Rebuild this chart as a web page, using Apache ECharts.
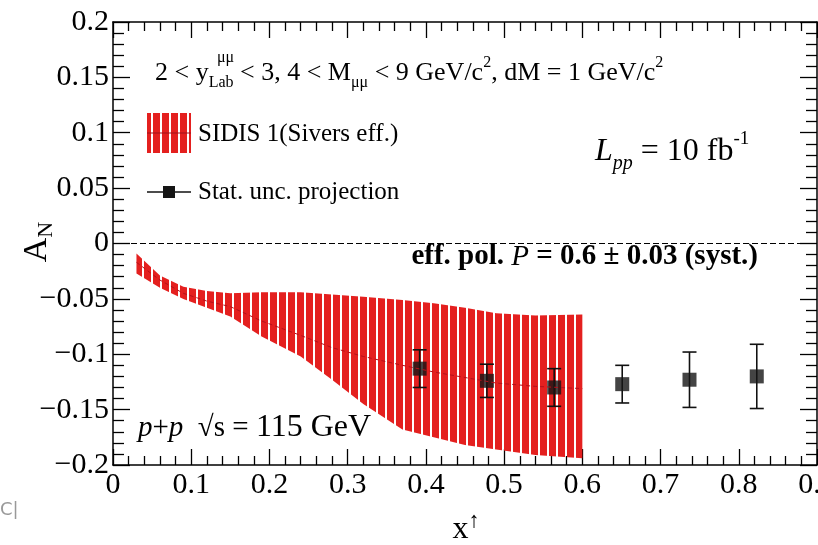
<!DOCTYPE html>
<html>
<head>
<meta charset="utf-8">
<script src="https://cdn.jsdelivr.net/npm/echarts@6/dist/echarts.min.js"></script>
<style>
html, body { margin: 0; padding: 0; background: #fff; }
#chart { width: 818px; height: 545px; }
</style>
</head>
<body>
<div id="chart"></div>
<script>
// SIDIS 1 (Sivers eff.) band
var bandX    = [0.03, 0.06, 0.09, 0.12, 0.15, 0.19, 0.24, 0.28, 0.32, 0.37, 0.41, 0.45, 0.49, 0.54, 0.60];
var bandHigh = [-0.009, -0.029, -0.039, -0.043, -0.045, -0.044, -0.044, -0.046, -0.048, -0.051, -0.054, -0.058, -0.063, -0.065, -0.064];
var bandLow  = [-0.027, -0.040, -0.050, -0.058, -0.066, -0.084, -0.102, -0.123, -0.145, -0.168, -0.175, -0.182, -0.186, -0.191, -0.194];
var bandMid  = [-0.017, -0.033, -0.045, -0.052, -0.057, -0.070, -0.083, -0.094, -0.102, -0.110, -0.116, -0.121, -0.126, -0.129, -0.131];

// stat. unc. projection points
var statX   = [0.392, 0.478, 0.564, 0.651, 0.737, 0.823];
var statY   = [-0.113, -0.124, -0.130, -0.127, -0.123, -0.120];
var statErr = [0.017, 0.015, 0.017, 0.017, 0.025, 0.029];

var serif = '"Liberation Serif", "DejaVu Serif", serif';

function zip(a, b) {
  var out = [];
  for (var i = 0; i < a.length; i++) out.push([a[i], b[i]]);
  return out;
}

var bandData = [];
for (var i = 0; i < bandX.length; i++) bandData.push([bandX[i], bandLow[i], bandHigh[i]]);

var errData = [];
for (var j = 0; j < statX.length; j++) errData.push([statX[j], statY[j] - statErr[j], statY[j] + statErr[j]]);

// vertical red stripes like the ROOT hatch
var stripe = document.createElement('canvas');
stripe.width = 9; stripe.height = 4;
var sctx = stripe.getContext('2d');
sctx.fillStyle = '#e4201f';
sctx.fillRect(0, 0, 7, 4);
var stripeFill = { image: stripe, repeat: 'repeat' };

var tickStyle = { color: '#000', width: 1.3 };
function axisBase(extra) {
  var a = {
    axisLine: { onZero: false, lineStyle: { color: '#000', width: 1.5 } },
    axisTick: { inside: true, length: 16, lineStyle: tickStyle },
    minorTick: { show: true, splitNumber: 5, length: 9, lineStyle: tickStyle },
    splitLine: { show: false },
    minorSplitLine: { show: false }
  };
  for (var k in extra) a[k] = extra[k];
  return a;
}

var xFmt = function(v) { return v === 0 ? '0' : (+v.toFixed(1)).toString(); };
var yFmt = function(v) {
  var s = +v.toFixed(2);
  return s < 0 ? '\u2212' + String(-s) : String(s);
};

var chart = echarts.init(document.getElementById('chart'));
chart.setOption({
  animation: false,
  backgroundColor: '#fff',
  grid: { left: 113, right: 1, top: 22, bottom: 80, outerBoundsMode: 'none', containLabel: false },
  xAxis: [
    axisBase({ type: 'value', position: 'bottom', min: 0, max: 0.9, interval: 0.1,
      axisLabel: { color: '#000', fontFamily: serif, fontSize: 30, margin: 5, formatter: xFmt } }),
    axisBase({ type: 'value', position: 'top', min: 0, max: 0.9, interval: 0.1,
      axisLabel: { show: false } })
  ],
  yAxis: [
    axisBase({ type: 'value', position: 'left', min: -0.2, max: 0.2, interval: 0.05,
      axisTick: { inside: true, length: 17, lineStyle: tickStyle },
      minorTick: { show: true, splitNumber: 5, length: 11, lineStyle: tickStyle },
      axisLabel: { color: '#000', fontFamily: serif, fontSize: 30, margin: 4, formatter: yFmt } }),
    axisBase({ type: 'value', position: 'right', min: -0.2, max: 0.2, interval: 0.05,
      axisTick: { inside: true, length: 17, lineStyle: tickStyle },
      minorTick: { show: true, splitNumber: 5, length: 11, lineStyle: tickStyle },
      axisLabel: { show: false } })
  ],
  series: [
    {
      // band as one polygon through the library's coordinates
      type: 'custom', data: bandData, encode: { x: 0, y: [1, 2] }, silent: true,
      renderItem: function(params, api) {
        if (params.dataIndex !== 0) return null;
        var pts = [];
        for (var k = 0; k < bandX.length; k++) pts.push(api.coord([bandX[k], bandHigh[k]]));
        for (var m = bandX.length - 1; m >= 0; m--) pts.push(api.coord([bandX[m], bandLow[m]]));
        return { type: 'polygon', shape: { points: pts }, style: { fill: stripeFill } };
      }
    },
    {
      type: 'line', data: zip(bandX, bandMid), symbol: 'none', silent: true,
      lineStyle: { color: '#b3101a', width: 1, type: [4, 3] },
      markLine: {
        silent: true, symbol: ['none', 'none'], label: { show: false },
        lineStyle: { color: '#000', width: 1, type: [6, 3] },
        data: [{ yAxis: 0 }]
      }
    },
    {
      type: 'custom', data: errData, encode: { x: 0, y: [1, 2] },
      renderItem: function(params, api) {
        var x = api.value(0);
        var lo = api.coord([x, api.value(1)]);
        var hi = api.coord([x, api.value(2)]);
        var cap = 7;
        var st = { stroke: '#111', lineWidth: 1.6 };
        return { type: 'group', children: [
          { type: 'line', shape: { x1: lo[0], y1: lo[1], x2: hi[0], y2: hi[1] }, style: st },
          { type: 'line', shape: { x1: lo[0] - cap, y1: lo[1], x2: lo[0] + cap, y2: lo[1] }, style: st },
          { type: 'line', shape: { x1: hi[0] - cap, y1: hi[1], x2: hi[0] + cap, y2: hi[1] }, style: st }
        ]};
      }
    },
    {
      type: 'scatter', data: zip(statX, statY), symbol: 'rect', symbolSize: 14,
      itemStyle: { color: '#151515' }
    }
  ],
  graphic: [
    // header line
    { type: 'text', x: 155, y: 73, style: {
      text: '{n|2 < y}{sub|Lab}{n| < 3, 4 < M}{sub|\u03bc\u03bc}{n| < 9 GeV/c}{sup|2}{n|, dM = 1 GeV/c}{sup|2}',
      verticalAlign: 'middle', lineHeight: 36,
      rich: {
        n: { fontFamily: serif, fontSize: 26, fill: '#000' },
        sub: { fontFamily: serif, fontSize: 16, fill: '#000', verticalAlign: 'bottom', lineHeight: 16 },
        sup: { fontFamily: serif, fontSize: 16, fill: '#000', verticalAlign: 'top', lineHeight: 18 }
      } } },
    { type: 'text', x: 217, y: 58, style: { text: '\u03bc\u03bc', fontFamily: serif, fontSize: 16, fill: '#000', verticalAlign: 'middle' } },
    // legend
    { type: 'rect', shape: { x: 147, y: 113, width: 44, height: 40 }, style: { fill: stripeFill } },
    { type: 'line', shape: { x1: 147, y1: 133, x2: 191, y2: 133 }, style: { stroke: '#a0101a', lineWidth: 1 } },
    { type: 'text', x: 198, y: 134, style: { text: 'SIDIS 1(Sivers eff.)', fontFamily: serif, fontSize: 25, fill: '#000', verticalAlign: 'middle' } },
    { type: 'line', shape: { x1: 147, y1: 192, x2: 191, y2: 192 }, style: { stroke: '#111', lineWidth: 1.6 } },
    { type: 'rect', shape: { x: 163, y: 186, width: 12, height: 12 }, style: { fill: '#151515' } },
    { type: 'text', x: 198, y: 192, style: { text: 'Stat. unc. projection', fontFamily: serif, fontSize: 25, fill: '#000', verticalAlign: 'middle' } },
    // luminosity
    { type: 'text', x: 595, y: 152, style: {
      text: '{l|L}{sub|pp}{m| = 10 fb}{sup|-1}', verticalAlign: 'middle', lineHeight: 44,
      rich: {
        l: { fontFamily: serif, fontSize: 32, fontStyle: 'italic', fill: '#000' },
        m: { fontFamily: serif, fontSize: 32, fill: '#000' },
        sub: { fontFamily: serif, fontSize: 20, fontStyle: 'italic', fill: '#000', verticalAlign: 'bottom', lineHeight: 20 },
        sup: { fontFamily: serif, fontSize: 19, fill: '#000', verticalAlign: 'top', lineHeight: 22 }
      } } },
    // polarisation
    { type: 'text', x: 758, y: 257, style: {
      text: '{b|eff. pol. }{i|P}{b| = 0.6 \u00b1 0.03 (syst.)}', align: 'right', verticalAlign: 'middle',
      rich: {
        b: { fontFamily: serif, fontSize: 29, fontWeight: 'bold', fill: '#000' },
        i: { fontFamily: serif, fontSize: 29, fontStyle: 'italic', fill: '#000' }
      } } },
    // p+p
    { type: 'text', x: 138, y: 428, style: {
      text: '{i|p}{n|+}{i|p}{n|  \u221as = }{m|115 GeV}', verticalAlign: 'middle',
      rich: {
        i: { fontFamily: serif, fontSize: 29, fontStyle: 'italic', fill: '#000' },
        n: { fontFamily: serif, fontSize: 29, fill: '#000' },
        m: { fontFamily: serif, fontSize: 32, fill: '#000' }
      } } },
    // axis titles
    { type: 'text', x: 37, y: 242, rotation: Math.PI / 2, style: {
      text: '{a|A}{s|N}', align: 'center', verticalAlign: 'middle', lineHeight: 40,
      rich: {
        a: { fontFamily: serif, fontSize: 34, fill: '#000' },
        s: { fontFamily: serif, fontSize: 22, fill: '#000', verticalAlign: 'bottom', lineHeight: 24 }
      } } },
    { type: 'text', x: 466, y: 530, style: {
      text: '{a|x}{s|\u2191}', align: 'center', verticalAlign: 'middle', lineHeight: 40,
      rich: {
        a: { fontFamily: serif, fontSize: 32, fill: '#000' },
        s: { fontFamily: serif, fontSize: 22, fill: '#000', verticalAlign: 'top', lineHeight: 24 }
      } } },
    { type: 'text', x: 0, y: 510, style: { text: 'C|', fontFamily: '"DejaVu Sans", sans-serif', fontSize: 18, fill: '#999', verticalAlign: 'middle' } }
  ]
});
</script>
</body>
</html>
